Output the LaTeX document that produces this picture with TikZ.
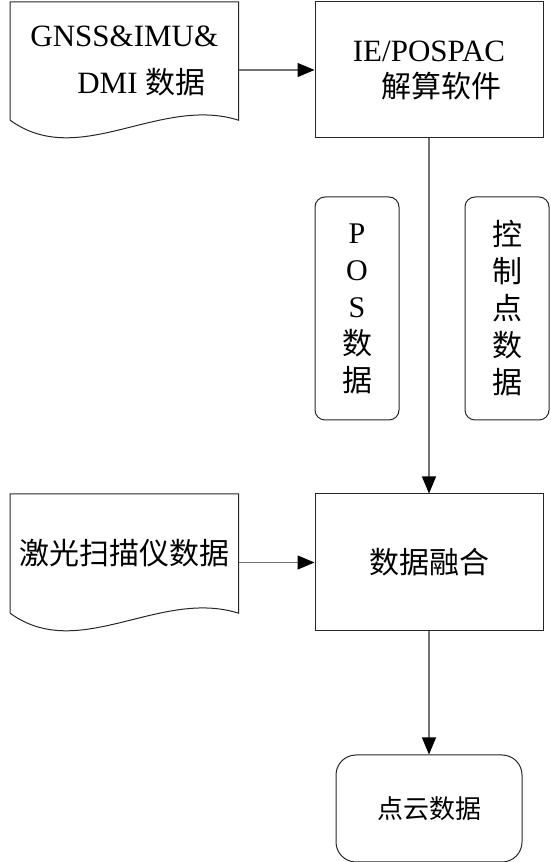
\documentclass[tikz,border=0pt]{standalone}
\usepackage{fontspec}
\setmainfont{Liberation Serif}
\newfontfamily\cjk{Noto Sans CJK SC}
\usetikzlibrary{positioning,arrows.meta}
\newcommand{\zh}[1]{{\cjk\fontsize{30pt}{36pt}\selectfont #1}}
% document shape: frame plus wavy bottom edge
\newcommand{\docoutline}[1]{\draw[outline] (#1.south west) -- (#1.north west) -- (#1.north east) -- (#1.south east) .. controls +(-79,25) and +(69,-50) .. (#1.south west);}

\begin{document}
\begin{tikzpicture}[
    x=1pt, y=1pt,
    font=\fontsize{31pt}{36pt}\selectfont,
    zhfont/.style={font=\cjk\fontsize{30pt}{36pt}\selectfont},
    outline/.style={draw=black!85, line width=1pt},
    box/.style={outline, minimum width=228pt, align=center, inner sep=0pt},
    proc/.style={box, minimum height=136pt},
    doc/.style={align=center, minimum width=228pt, minimum height=118pt, inner sep=0pt},
    tag/.style={box, rounded corners=10pt, minimum width=84pt, minimum height=223pt, font=\fontsize{30pt}{37pt}\selectfont},
    result/.style={box, rounded corners=20pt, minimum width=186pt, minimum height=107pt, font=\cjk\fontsize{26pt}{32pt}\selectfont},
    arrow/.style={-{Triangle[length=17pt,width=14pt,color=black]}, draw=black!55, line width=1.2pt},
]
\useasboundingbox (0,0) rectangle (550,862);
\node[proc] (ie) at (429,792) {IE/POSPAC\\\hspace*{0.8em}\zh{解算软件}};
\node[doc, left=76pt of ie, yshift=9pt] (gnss) {GNSS\&IMU\&\\[11pt]\hspace*{1.1em}DMI \zh{数据}};
\docoutline{gnss}
\node[tag] (pos) at (357,553.5) {P\\O\\S\\\zh{数}\\\zh{据}};
\node[tag, font=\cjk\fontsize{30pt}{37pt}\selectfont, right=65pt of pos] (ctrl) {控\\制\\点\\数\\据};
\node[proc, zhfont, below=355pt of ie, minimum height=137pt] (fuse) {数据融合};
\node[doc, zhfont, left=76pt of fuse, yshift=9pt, minimum height=119pt] (laser) {激光扫描仪数据};
\docoutline{laser}
\node[result, below=123pt of fuse] (cloud) {点云数据};

\draw[arrow] (gnss.east |- ie.west) -- (ie.west);
\draw[arrow] (ie.south) -- (fuse.north);
\draw[arrow] (laser.east |- fuse.west) -- (fuse.west);
\draw[arrow] (fuse.south) -- (cloud.north);
\end{tikzpicture}
\end{document}
